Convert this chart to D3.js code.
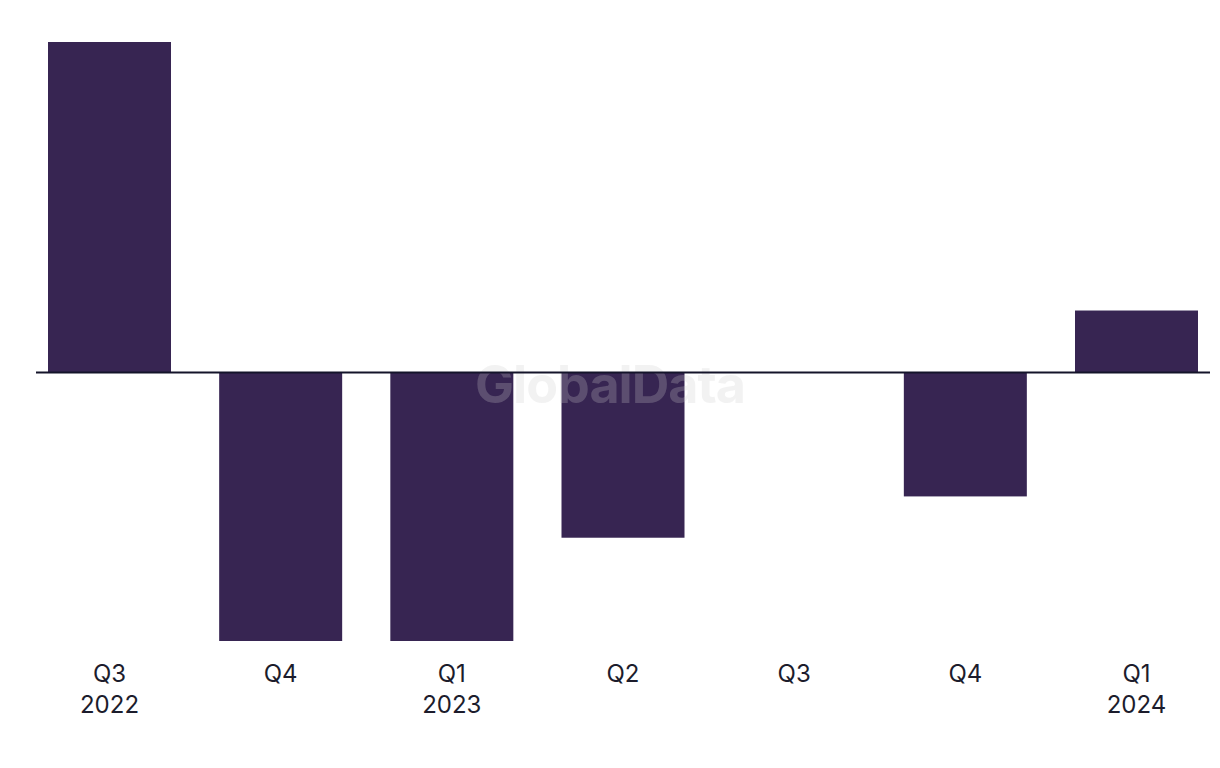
<!DOCTYPE html>
<html>
<head>
<meta charset="utf-8">
<script src="https://cdn.jsdelivr.net/npm/d3@7"></script>
<style>
  html, body { margin: 0; padding: 0; background: #ffffff; }
  svg { display: block; }
</style>
</head>
<body>
<svg id="chart" width="1220" height="768"></svg>
<script>
const quarters = ["Q3", "Q4", "Q1", "Q2", "Q3", "Q4", "Q1"];
const years = ["2022", "", "2023", "", "", "", "2024"];
const values = [8, -6.5, -6.5, -4, 0, -3, 1.5];

const categories = quarters.map((q, i) => q + "|" + years[i] + "|" + i);
const data = categories.map((c, i) => ({ key: c, q: quarters[i], y: years[i], v: values[i] }));

const svg = d3.select("#chart");

const x = d3.scaleBand()
  .domain(categories)
  .range([48, 1198])
  .paddingInner(0.2814)
  .paddingOuter(0);

const y = d3.scaleLinear()
  .domain([-6.5, 8])
  .range([641, 42]);

const barColor = "#372552";

// bars
svg.append("g").selectAll("rect")
  .data(data.filter(d => d.v !== 0))
  .join("rect")
  .attr("x", d => x(d.key))
  .attr("width", x.bandwidth())
  .attr("y", d => Math.min(y(d.v), y(0)))
  .attr("height", d => Math.abs(y(d.v) - y(0)))
  .attr("fill", barColor);

// watermark on top so it tints bars
svg.append("text")
  .attr("x", 610)
  .attr("y", 403)
  .attr("text-anchor", "middle")
  .attr("font-family", "Inter, 'Noto Sans', sans-serif")
  .attr("font-weight", 700)
  .attr("font-size", 52)
  .attr("letter-spacing", -1)
  .attr("fill", "#cccccc")
  .attr("fill-opacity", 0.25)
  .text("GlobalData");

// zero line
svg.append("line")
  .attr("x1", 36)
  .attr("x2", 1210)
  .attr("y1", y(0))
  .attr("y2", y(0))
  .attr("stroke", "#14142a")
  .attr("stroke-width", 2);

// x axis labels
const xAxis = d3.axisBottom(x).tickSize(0).tickFormat(() => "");
const gx = svg.append("g")
  .attr("transform", "translate(0,660)")
  .call(xAxis);
gx.select(".domain").remove();
gx.selectAll(".tick").each(function(d, i) {
  const t = d3.select(this).select("text");
  t.attr("y", 0).attr("dy", null)
    .attr("font-family", "Inter, 'Noto Sans', sans-serif")
    .attr("font-size", 24)
    .attr("fill", "#1c1c2c")
    .attr("text-anchor", "middle");
  t.append("tspan").attr("x", 0).attr("y", 21.5).text(data[i].q);
  if (data[i].y) t.append("tspan").attr("x", 0).attr("y", 52.5).text(data[i].y);
});
</script>
</body>
</html>
